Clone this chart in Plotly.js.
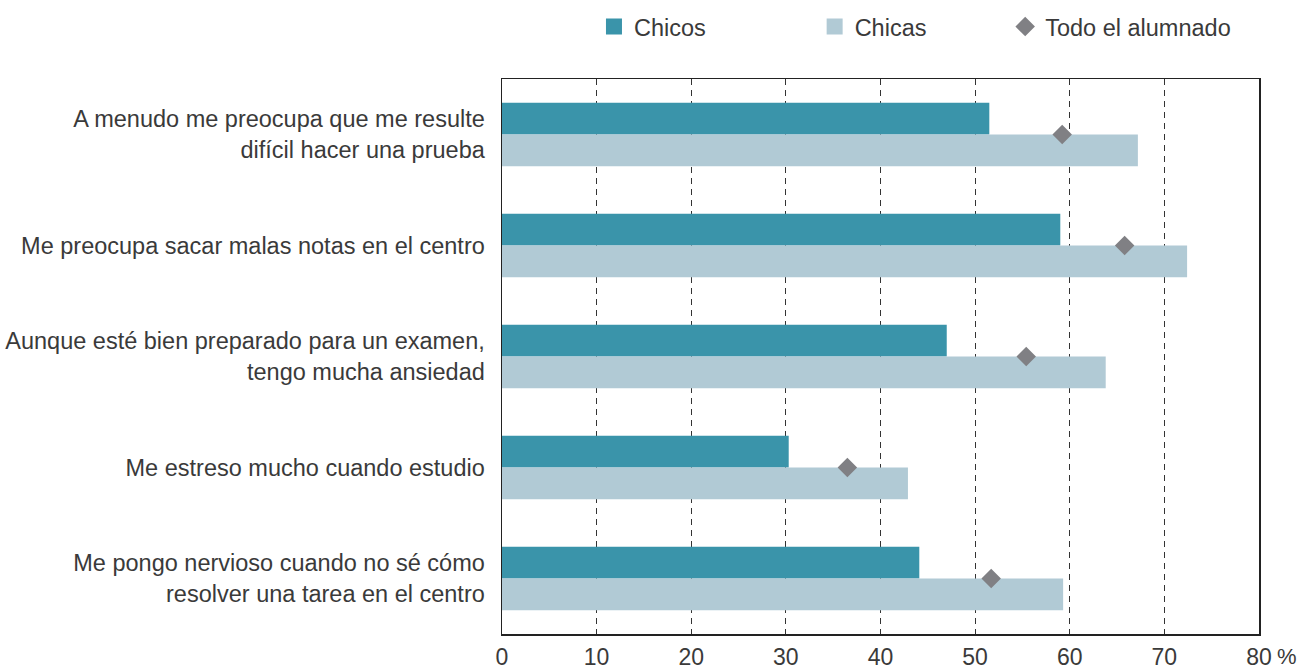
<!DOCTYPE html>
<html>
<head>
<meta charset="utf-8">
<script src="https://cdn.plot.ly/plotly-3.0.1.min.js"></script>
<style>html,body{margin:0;padding:0;background:#fff;}#chart{width:1301px;height:670px;}</style>
</head>
<body>
<div id="chart"></div>
<script>
const categories = [
  "A menudo me preocupa que me resulte<br>difícil hacer una prueba",
  "Me preocupa sacar malas notas en el centro",
  "Aunque esté bien preparado para un examen,<br>tengo mucha ansiedad",
  "Me estreso mucho cuando estudio",
  "Me pongo nervioso cuando no sé cómo<br>resolver una tarea en el centro"
];
const chicos = [51.5, 59.0, 47.0, 30.3, 44.1];
const chicas = [67.2, 72.4, 63.8, 42.9, 59.3];
const todo = [59.2, 65.8, 55.4, 36.5, 51.7];
const xTickVals = [0, 10, 20, 30, 40, 50, 60, 70, 80];
const xTickText = ["0", "10", "20", "30", "40", "50", "60", "70", "80"];

const cChicos = "#3a94aa";
const cChicas = "#b1cad5";
const cTodo = "#808084";
const txt = "#3a3a3a";
const font = "Liberation Sans, Arial, sans-serif";

const traces = [
  {type: "bar", orientation: "h", name: "Chicos", y: categories, x: chicos,
   marker: {color: cChicos}, showlegend: false, hoverinfo: "x"},
  {type: "bar", orientation: "h", name: "Chicas", y: categories, x: chicas,
   marker: {color: cChicas}, showlegend: false, hoverinfo: "x"},
  {type: "scatter", mode: "markers", name: "Todo el alumnado", y: categories, x: todo,
   marker: {symbol: "diamond", size: 15, color: cTodo}, legend: "legend3"},
  {type: "scatter", mode: "markers", name: "Chicos", y: [null], x: [null],
   marker: {symbol: "square", size: 21, color: cChicos}, legend: "legend", hoverinfo: "skip"},
  {type: "scatter", mode: "markers", name: "Chicas", y: [null], x: [null],
   marker: {symbol: "square", size: 21, color: cChicas}, legend: "legend2", hoverinfo: "skip"}
];

const legBase = {orientation: "h", yanchor: "middle", xanchor: "left", y: 1.094,
  font: {family: font, size: 23.5, color: txt}, bgcolor: "rgba(0,0,0,0)", itemwidth: 30};

const layout = {
  width: 1301, height: 670,
  margin: {l: 501.5, r: 42, t: 79, b: 36, autoexpand: false},
  paper_bgcolor: "#fff", plot_bgcolor: "#fff",
  font: {family: font, size: 23, color: txt},
  barmode: "group", bargap: 0.43, bargroupgap: 0,
  xaxis: {range: [0, 80], tickvals: xTickVals, ticktext: xTickText,
    showgrid: true, gridcolor: "#333", griddash: "6px,5px", gridwidth: 1,
    showline: true, linecolor: "#222", linewidth: 1.5, mirror: true,
    ticks: "", ticklabelstandoff: 2,
    tickfont: {family: font, size: 23, color: txt}, zeroline: false, fixedrange: true},
  yaxis: {type: "category", autorange: "reversed", showgrid: false,
    showline: true, linecolor: "#222", linewidth: 1.5, mirror: true,
    ticks: "outside", ticklen: 11, tickcolor: "rgba(0,0,0,0)",
    tickfont: {family: font, size: 23.5, color: txt}, fixedrange: true},
  legend: Object.assign({}, legBase, {x: 0.1215}),
  legend2: Object.assign({}, legBase, {x: 0.413}),
  legend3: Object.assign({}, legBase, {x: 0.6647}),
  annotations: [{xref: "paper", yref: "paper", x: 1, y: 0, xanchor: "left", yanchor: "middle",
    xshift: 17, yshift: -22, text: "%", showarrow: false, borderpad: 0,
    font: {family: font, size: 22, color: txt}}]
};

Plotly.newPlot("chart", traces, layout, {displayModeBar: false, staticPlot: true});
</script>
</body>
</html>
